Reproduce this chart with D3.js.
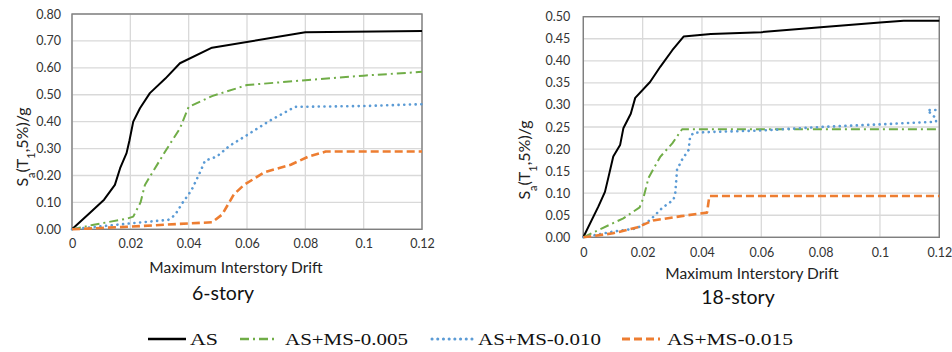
<!DOCTYPE html>
<html>
<head>
<meta charset="utf-8">
<script src="https://cdnjs.cloudflare.com/ajax/libs/d3/7.8.5/d3.min.js"></script>
<style>
  html, body { margin: 0; padding: 0; background: #fff; }
  svg { display: block; }
</style>
</head>
<body>
<svg id="chart" width="952" height="352"></svg>
<script>
// Series names, in legend order
const seriesNames = ["AS", "AS+MS-0.005", "AS+MS-0.010", "AS+MS-0.015"];

// 6-story building: [max interstory drift, Sa(T1,5%)/g]
const sixAS = [[0,0],[0.006,0.06],[0.011,0.11],[0.0147,0.165],[0.0165,0.227],[0.0187,0.283],[0.0197,0.33],[0.021,0.40],[0.0233,0.45],[0.0267,0.506],[0.032,0.56],[0.037,0.617],[0.048,0.675],[0.08,0.732],[0.12,0.737]];
const sixMS005 = [[0,0],[0.007,0.016],[0.019,0.04],[0.021,0.047],[0.0235,0.10],[0.025,0.165],[0.032,0.29],[0.037,0.375],[0.040,0.455],[0.048,0.495],[0.06,0.536],[0.08,0.554],[0.1,0.571],[0.12,0.585]];
const sixMS010 = [[0,0],[0.009,0.01],[0.02,0.022],[0.033,0.035],[0.0353,0.053],[0.038,0.10],[0.041,0.146],[0.044,0.214],[0.0456,0.255],[0.0496,0.27],[0.054,0.31],[0.06,0.35],[0.068,0.405],[0.0765,0.455],[0.1,0.458],[0.12,0.465]];
const sixMS015 = [[0,0],[0.01,0.005],[0.02,0.01],[0.037,0.02],[0.048,0.026],[0.0515,0.055],[0.0555,0.13],[0.059,0.165],[0.066,0.212],[0.075,0.24],[0.081,0.27],[0.087,0.289],[0.12,0.289]];

// 18-story building
const eighteenAS = [[0,0],[0.0051,0.07],[0.0073,0.103],[0.0085,0.137],[0.0101,0.183],[0.0124,0.209],[0.0135,0.247],[0.016,0.28],[0.0175,0.316],[0.0225,0.352],[0.026,0.387],[0.03,0.424],[0.0338,0.455],[0.043,0.461],[0.06,0.465],[0.08,0.476],[0.1,0.487],[0.108,0.491],[0.12,0.491]];
const eighteenMS005 = [[0,0],[0.004,0.013],[0.0135,0.043],[0.019,0.068],[0.0203,0.09],[0.022,0.135],[0.026,0.183],[0.03,0.213],[0.0333,0.245],[0.12,0.245]];
const eighteenMS010 = [[0,0],[0.0101,0.013],[0.018,0.02],[0.0225,0.039],[0.0265,0.066],[0.0304,0.085],[0.031,0.1],[0.0316,0.153],[0.0332,0.175],[0.0355,0.198],[0.036,0.228],[0.0372,0.237],[0.044,0.239],[0.06,0.242],[0.08,0.25],[0.1,0.256],[0.1189,0.262],[0.1189,0.27],[0.1175,0.278],[0.116,0.2885],[0.12,0.2885]];
const eighteenMS015 = [[0,0],[0.01,0.009],[0.018,0.022],[0.0235,0.038],[0.033,0.048],[0.0417,0.056],[0.0425,0.0935],[0.12,0.0935]];

// Tick labels
const xTicks = [0, 0.02, 0.04, 0.06, 0.08, 0.1, 0.12];
const xTickLabels = ["0", "0.02", "0.04", "0.06", "0.08", "0.1", "0.12"];
const yTicksSix = [0, 0.1, 0.2, 0.3, 0.4, 0.5, 0.6, 0.7, 0.8];
const yTicksEighteen = [0, 0.05, 0.1, 0.15, 0.2, 0.25, 0.3, 0.35, 0.4, 0.45, 0.5];

const titles = ["6-story", "18-story"];
const xAxisTitle = "Maximum Interstory Drift";

// Line styles per series
const styles = [
  { color: "#000000", width: 2,   dash: null,        cap: "butt" },
  { color: "#70ad47", width: 2,   dash: "9,4,2,4",   cap: "butt" },
  { color: "#5b9bd5", width: 2.6, dash: "0.1,5.6",   cap: "round" },
  { color: "#ed7d31", width: 2.6, dash: "8,4",       cap: "butt" }
];

const svg = d3.select("#chart");
const tickFont = "Lato, 'Open Sans', sans-serif";

function drawPanel(cfg) {
  const x = d3.scaleLinear().domain([0, 0.12]).range([cfg.left, cfg.right]);
  const y = d3.scaleLinear().domain([0, cfg.yMax]).range([cfg.bottom, cfg.top]);
  const g = svg.append("g");

  // gridlines
  g.append("g").selectAll("line").data(cfg.yTicks).join("line")
    .attr("x1", cfg.left).attr("x2", cfg.right)
    .attr("y1", d => y(d)).attr("y2", d => y(d))
    .attr("stroke", "#d9d9d9").attr("stroke-width", 1.3);
  g.append("g").selectAll("line").data(xTicks).join("line")
    .attr("x1", d => x(d)).attr("x2", d => x(d))
    .attr("y1", cfg.top).attr("y2", cfg.bottom)
    .attr("stroke", "#d9d9d9").attr("stroke-width", 1.3);

  // frame
  g.append("rect")
    .attr("x", cfg.left).attr("y", cfg.top)
    .attr("width", cfg.right - cfg.left).attr("height", cfg.bottom - cfg.top)
    .attr("fill", "none").attr("stroke", "#7f7f7f").attr("stroke-width", 1.4);

  // axes (labels only, the frame carries the lines)
  const xAxis = g.append("g").attr("transform", `translate(0,${cfg.bottom})`)
    .call(d3.axisBottom(x).tickValues(xTicks).tickSize(0).tickPadding(cfg.xPad)
      .tickFormat((d, i) => xTickLabels[i]));
  const yAxis = g.append("g").attr("transform", `translate(${cfg.left},0)`)
    .call(d3.axisLeft(y).tickValues(cfg.yTicks).tickSize(0).tickPadding(cfg.yPad)
      .tickFormat(d3.format(".2f")));
  [xAxis, yAxis].forEach(a => {
    a.select(".domain").remove();
    a.selectAll("text").attr("font-family", tickFont).attr("font-size", 12.5).attr("fill", "#333");
  });

  // curves
  const line = d3.line().x(d => x(d[0])).y(d => y(d[1]));
  cfg.series.forEach((s, i) => {
    const st = styles[i];
    g.append("path").datum(s)
      .attr("d", line)
      .attr("fill", "none")
      .attr("stroke", st.color)
      .attr("stroke-width", st.width)
      .attr("stroke-linecap", st.cap)
      .attr("stroke-linejoin", "round")
      .attr("stroke-dasharray", st.dash);
  });

  // y axis title with subscripts
  const yt = g.append("text")
    .attr("transform", `translate(${cfg.yTitleX},${cfg.yTitleY}) rotate(-90)`)
    .attr("text-anchor", "middle")
    .attr("font-family", tickFont).attr("font-size", 16).attr("fill", "#222");
  yt.append("tspan").text("S");
  yt.append("tspan").attr("baseline-shift", "sub").attr("font-size", 11).text("a");
  yt.append("tspan").text("(T");
  yt.append("tspan").attr("baseline-shift", "sub").attr("font-size", 11).text("1");
  yt.append("tspan").text(",5%)/g");

  // x axis title
  g.append("text")
    .attr("x", cfg.xTitleX).attr("y", cfg.xTitleY)
    .attr("text-anchor", "middle")
    .attr("font-family", tickFont).attr("font-size", 15.5).attr("fill", "#222")
    .text(xAxisTitle);

  // panel title
  g.append("text")
    .attr("x", cfg.titleX).attr("y", cfg.titleY)
    .attr("text-anchor", "middle")
    .attr("font-family", tickFont).attr("font-size", 19.5).attr("fill", "#111")
    .text(cfg.title);
}

drawPanel({
  left: 72, right: 422, top: 14, bottom: 229.3, yMax: 0.8,
  yTicks: yTicksSix, xPad: 10, yPad: 11,
  series: [sixAS, sixMS005, sixMS010, sixMS015],
  yTitleX: 28, yTitleY: 147,
  xTitleX: 236, xTitleY: 273,
  titleX: 223, titleY: 300, title: titles[0]
});

drawPanel({
  left: 583.3, right: 939.3, top: 16.7, bottom: 237.3, yMax: 0.5,
  yTicks: yTicksEighteen, xPad: 11, yPad: 13,
  series: [eighteenAS, eighteenMS005, eighteenMS010, eighteenMS015],
  yTitleX: 530, yTitleY: 160,
  xTitleX: 752, xTitleY: 279,
  titleX: 738, titleY: 304, title: titles[1]
});

// legend
const legendItems = [
  { x1: 148, x2: 186, tx: 190, tw: 28 },
  { x1: 240, x2: 276, tx: 285, tw: 123 },
  { x1: 432, x2: 472, tx: 478, tw: 123 },
  { x1: 622, x2: 660, tx: 667, tw: 126 }
];
const legend = svg.append("g");
legendItems.forEach((it, i) => {
  const st = styles[i];
  legend.append("line")
    .attr("x1", it.x1).attr("x2", it.x2).attr("y1", 339).attr("y2", 339)
    .attr("stroke", st.color).attr("stroke-width", st.width + 0.4)
    .attr("stroke-linecap", st.cap)
    .attr("stroke-dasharray", st.dash);
  legend.append("text")
    .attr("x", it.tx).attr("y", 345)
    .attr("font-family", "'Liberation Serif', 'Times New Roman', serif")
    .attr("font-size", 17).attr("fill", "#111")
    .attr("textLength", it.tw).attr("lengthAdjust", "spacingAndGlyphs")
    .text(seriesNames[i]);
});
</script>
</body>
</html>
